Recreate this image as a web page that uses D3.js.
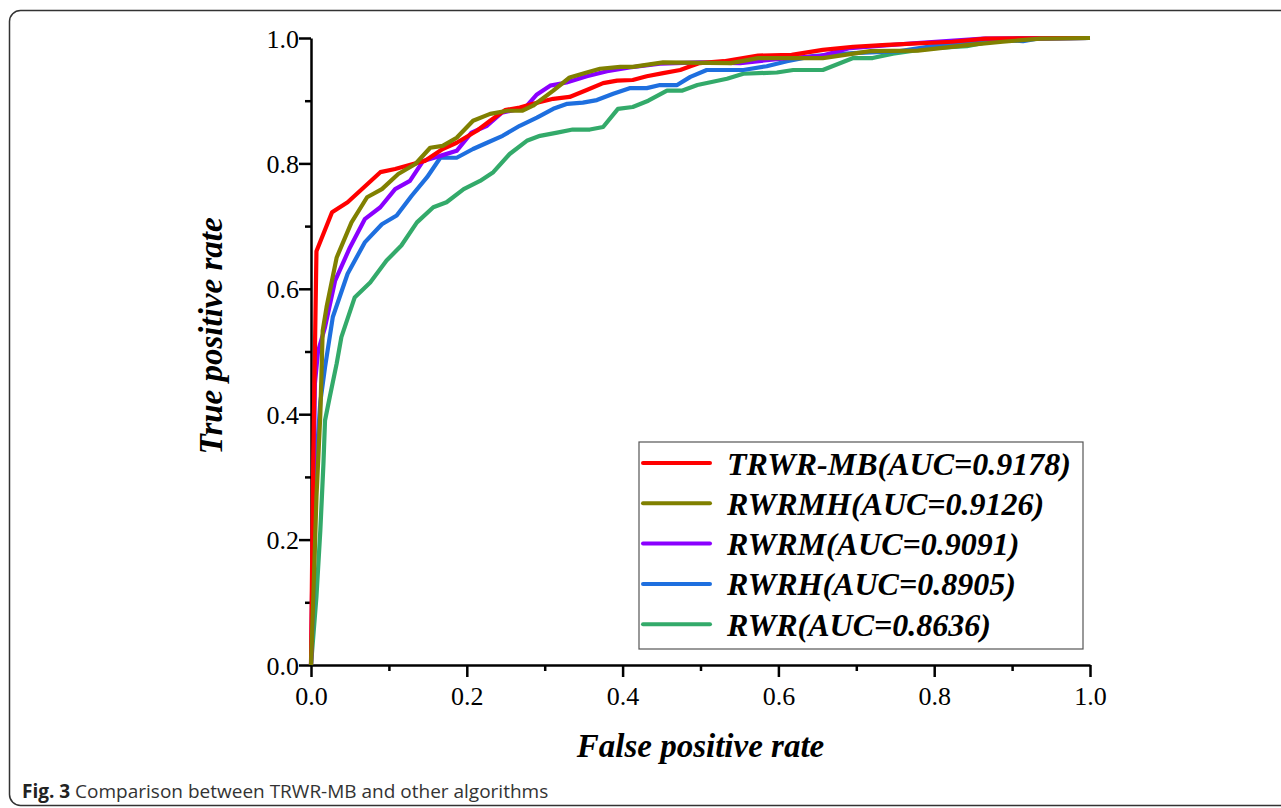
<!DOCTYPE html>
<html>
<head>
<meta charset="utf-8">
<script src="https://cdn.jsdelivr.net/npm/d3@7.8.5/dist/d3.min.js"></script>
<style>
  body { margin: 0; background: #fff; }
  svg { display: block; }
</style>
</head>
<body>
<div id="chart"></div>
<script>
// ROC curves: [false positive rate, true positive rate]
const trwrMB = [[0,0],[0.003,0.34],[0.007,0.66],[0.027,0.722],[0.047,0.738],[0.089,0.786],[0.108,0.791],[0.131,0.799],[0.146,0.804],[0.169,0.823],[0.187,0.833],[0.213,0.852],[0.23,0.868],[0.249,0.885],[0.268,0.889],[0.285,0.895],[0.311,0.903],[0.332,0.906],[0.354,0.917],[0.375,0.928],[0.393,0.932],[0.413,0.933],[0.431,0.939],[0.452,0.944],[0.474,0.949],[0.487,0.955],[0.499,0.96],[0.53,0.963],[0.574,0.972],[0.617,0.973],[0.657,0.981],[0.696,0.986],[0.739,0.989],[0.823,0.994],[0.866,0.999],[1,1]]
const rwrmh = [[0,0],[0.003,0.109],[0.007,0.268],[0.012,0.401],[0.015,0.533],[0.02,0.571],[0.033,0.65],[0.052,0.706],[0.072,0.746],[0.091,0.759],[0.112,0.783],[0.134,0.799],[0.153,0.825],[0.169,0.828],[0.187,0.841],[0.208,0.868],[0.23,0.879],[0.252,0.884],[0.271,0.884],[0.285,0.892],[0.311,0.916],[0.332,0.937],[0.354,0.945],[0.371,0.951],[0.397,0.954],[0.413,0.954],[0.452,0.961],[0.539,0.96],[0.574,0.968],[0.657,0.968],[0.718,0.979],[0.779,0.98],[0.845,0.989],[0.888,0.994],[0.936,0.999],[1,1]]
const rwrm = [[0,0],[0.002,0.167],[0.005,0.449],[0.009,0.5],[0.018,0.539],[0.031,0.613],[0.05,0.666],[0.069,0.711],[0.089,0.73],[0.108,0.759],[0.127,0.772],[0.144,0.804],[0.166,0.812],[0.187,0.82],[0.206,0.849],[0.226,0.86],[0.245,0.881],[0.275,0.889],[0.29,0.91],[0.307,0.924],[0.328,0.929],[0.354,0.939],[0.38,0.947],[0.409,0.953],[0.448,0.959],[0.499,0.961],[0.551,0.96],[0.611,0.968],[0.653,0.971],[0.692,0.984],[0.778,0.992],[0.863,0.999],[1,1]]
const rwrh = [[0,0],[0.003,0.1],[0.006,0.31],[0.012,0.42],[0.018,0.475],[0.028,0.555],[0.047,0.624],[0.069,0.674],[0.091,0.703],[0.11,0.717],[0.129,0.748],[0.149,0.778],[0.166,0.809],[0.187,0.809],[0.208,0.823],[0.226,0.833],[0.246,0.844],[0.268,0.86],[0.29,0.873],[0.311,0.887],[0.329,0.895],[0.349,0.897],[0.367,0.901],[0.388,0.911],[0.409,0.92],[0.431,0.92],[0.448,0.925],[0.47,0.925],[0.487,0.938],[0.508,0.949],[0.555,0.949],[0.585,0.955],[0.611,0.963],[0.644,0.971],[0.696,0.976],[0.756,0.979],[0.798,0.987],[0.842,0.992],[0.884,0.997],[0.914,0.995],[0.932,0.999],[1,1]]
const rwr = [[0,0],[0.007,0.109],[0.012,0.215],[0.016,0.322],[0.018,0.39],[0.024,0.427],[0.033,0.481],[0.039,0.523],[0.056,0.586],[0.076,0.61],[0.097,0.645],[0.116,0.669],[0.136,0.706],[0.157,0.73],[0.174,0.738],[0.196,0.759],[0.217,0.772],[0.234,0.786],[0.255,0.815],[0.277,0.836],[0.294,0.844],[0.316,0.849],[0.336,0.854],[0.358,0.854],[0.375,0.858],[0.394,0.887],[0.413,0.89],[0.433,0.9],[0.457,0.916],[0.476,0.916],[0.496,0.925],[0.534,0.935],[0.555,0.943],[0.598,0.945],[0.619,0.949],[0.657,0.949],[0.696,0.968],[0.721,0.968],[0.747,0.975],[0.798,0.984],[0.842,0.987],[0.863,0.992],[0.906,0.999],[1,1]]

const seriesNames = ["TRWR-MB(AUC=0.9178)", "RWRMH(AUC=0.9126)", "RWRM(AUC=0.9091)", "RWRH(AUC=0.8905)", "RWR(AUC=0.8636)"]
const seriesValues = [trwrMB, rwrmh, rwrm, rwrh, rwr]
const seriesColors = ["#ff0000", "#808000", "#8a00ff", "#1e6fdf", "#33aa6a"]
// drawing order: green at the back, olive on top
const drawOrder = [4, 3, 2, 0, 1]

const majorTicks = [0, 0.2, 0.4, 0.6, 0.8, 1.0]
const minorTicks = [0.1, 0.3, 0.5, 0.7, 0.9]

const width = 1281, height = 808
const margin = {top: 38, right: 191, bottom: 143, left: 311}

const svg = d3.select("#chart").append("svg")
  .attr("width", width)
  .attr("height", height)

// outer figure frame
svg.append("rect")
  .attr("x", 9.5).attr("y", 10.5)
  .attr("width", 1290).attr("height", 795)
  .attr("rx", 11)
  .attr("fill", "none")
  .attr("stroke", "#333")
  .attr("stroke-width", 1.5)

const x = d3.scaleLinear().domain([0, 1]).range([margin.left, width - margin.right])
const y = d3.scaleLinear().domain([0, 1]).range([height - margin.bottom, margin.top])

const serif = "'Liberation Serif', 'Times New Roman', serif"

// axes: major ticks labelled, minor ticks shorter
const xAxis = svg.append("g").attr("transform", `translate(0,${y(0)})`)
xAxis.call(d3.axisBottom(x).tickValues(majorTicks).tickFormat(d3.format(".1f")).tickSizeInner(12).tickSizeOuter(0).tickPadding(5))
xAxis.append("g").call(d3.axisBottom(x).tickValues(minorTicks).tickFormat("").tickSize(6))
  .select(".domain").remove()

const yAxis = svg.append("g").attr("transform", `translate(${x(0)},0)`)
yAxis.call(d3.axisLeft(y).tickValues(majorTicks).tickFormat(d3.format(".1f")).tickSizeInner(12).tickSizeOuter(0).tickPadding(0))
yAxis.append("g").call(d3.axisLeft(y).tickValues(minorTicks).tickFormat("").tickSize(6))
  .select(".domain").remove()

svg.selectAll(".domain, .tick line")
  .attr("stroke", "#000")
  .attr("stroke-width", 2.5)

svg.selectAll(".tick text")
  .attr("font-family", serif)
  .attr("font-size", 26)
  .attr("fill", "#000")
xAxis.selectAll(".tick text").attr("dy", "0.9em")
yAxis.selectAll(".tick text").attr("dy", "0.35em")

// curves
const line = d3.line().x(d => x(d[0])).y(d => y(d[1]))

svg.append("g")
  .selectAll("path")
  .data(drawOrder)
  .join("path")
    .attr("d", i => line(seriesValues[i]))
    .attr("fill", "none")
    .attr("stroke", i => seriesColors[i])
    .attr("stroke-width", 4.2)
    .attr("stroke-linejoin", "round")

// axis titles
svg.append("text")
  .attr("x", (x(0) + x(1)) / 2)
  .attr("y", 757)
  .attr("text-anchor", "middle")
  .attr("font-family", serif)
  .attr("font-weight", "bold")
  .attr("font-style", "italic")
  .attr("font-size", 33)
  .text("False positive rate")

svg.append("text")
  .attr("transform", "translate(222,336) rotate(-90)")
  .attr("text-anchor", "middle")
  .attr("font-family", serif)
  .attr("font-weight", "bold")
  .attr("font-style", "italic")
  .attr("font-size", 33)
  .text("True positive rate")

// legend
const legend = svg.append("g").attr("transform", "translate(639,442)")
legend.append("rect")
  .attr("width", 444).attr("height", 207)
  .attr("fill", "#fff")
  .attr("stroke", "#555")
  .attr("stroke-width", 1.2)

const item = legend.selectAll("g.item")
  .data(seriesNames)
  .join("g")
    .attr("class", "item")
    .attr("transform", (d, i) => `translate(0,${21 + i * 40.3})`)

item.append("line")
  .attr("x1", 4).attr("x2", 71)
  .attr("stroke", (d, i) => seriesColors[i])
  .attr("stroke-width", 4)
  .attr("stroke-linecap", "round")

item.append("text")
  .attr("x", 88)
  .attr("dy", "0.36em")
  .attr("font-family", serif)
  .attr("font-weight", "bold")
  .attr("font-style", "italic")
  .attr("font-size", 32)
  .text(d => d)

// caption
const caption = svg.append("text")
  .attr("x", 22).attr("y", 798)
  .attr("font-family", "'Open Sans', 'Noto Sans', sans-serif")
  .attr("font-size", 19)
  .attr("fill", "#333")
caption.append("tspan").attr("font-weight", "bold").attr("fill", "#222").text("Fig. 3")
caption.append("tspan").text(" Comparison between TRWR-MB and other algorithms")
</script>
</body>
</html>
